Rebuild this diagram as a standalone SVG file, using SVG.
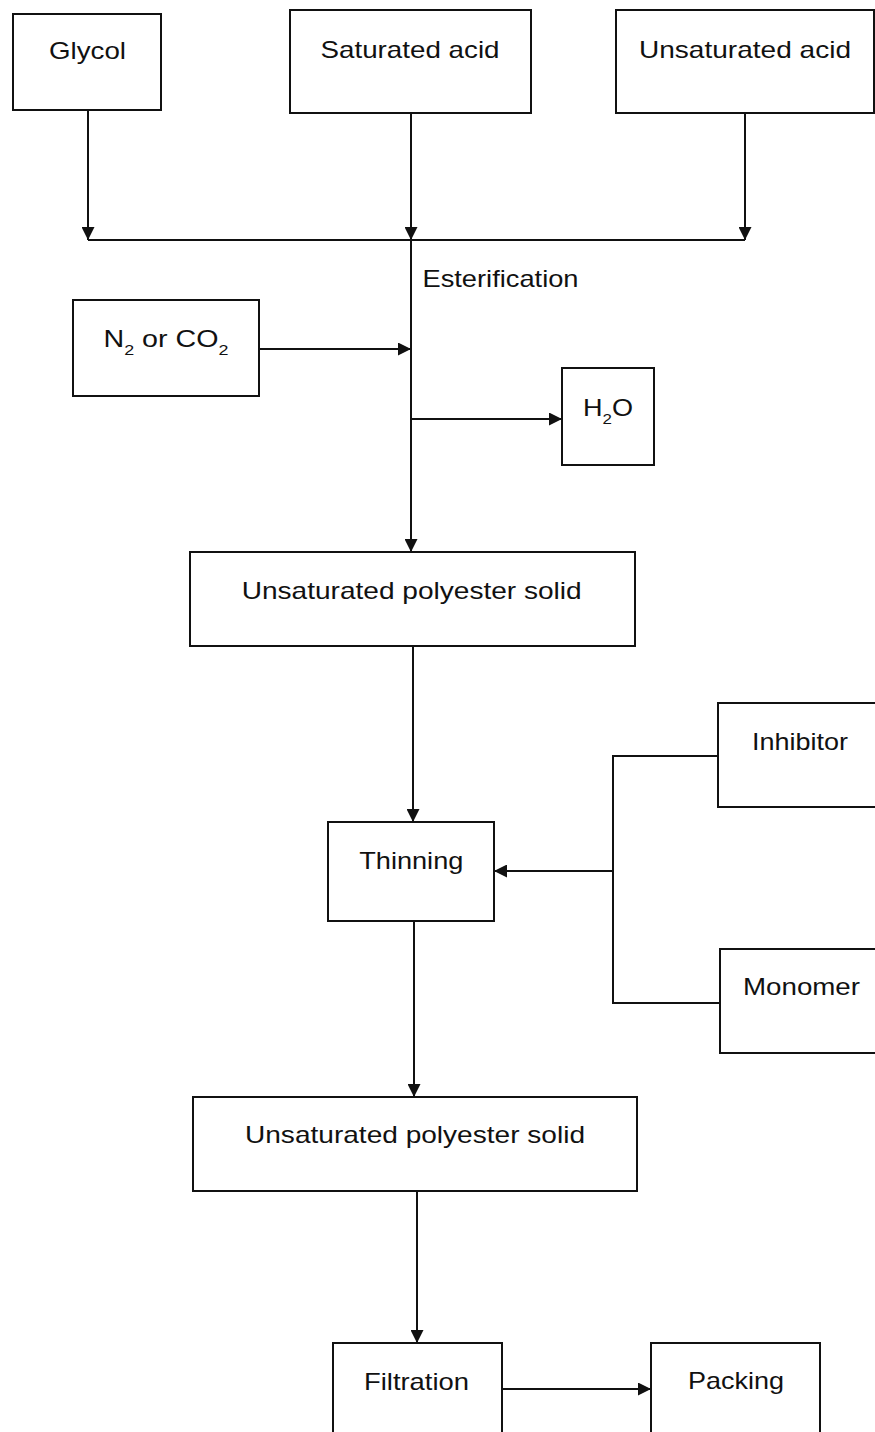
<svg xmlns="http://www.w3.org/2000/svg" width="875" height="1432" viewBox="0 0 875 1432">
<style>
.box{fill:#fff;stroke:#111;stroke-width:2}
.t{font-family:"Liberation Sans",Arial,sans-serif;font-size:24px;fill:#111;text-anchor:middle}
.l{fill:none;stroke:#111;stroke-width:2}
</style>
<defs>
<marker id="ah" markerUnits="userSpaceOnUse" markerWidth="13" markerHeight="13" refX="13" refY="6.5" orient="auto">
<path d="M0,0 L13,6.5 L0,13 z" fill="#111"/>
</marker>
</defs>
<rect width="875" height="1432" fill="#fff"/>
<g id="connectors">
<line class="l" x1="88" y1="110" x2="88" y2="240" marker-end="url(#ah)"/>
<line class="l" x1="411" y1="113" x2="411" y2="240" marker-end="url(#ah)"/>
<line class="l" x1="745" y1="113" x2="745" y2="240" marker-end="url(#ah)"/>
<line class="l" x1="88" y1="240" x2="745" y2="240"/>
<line class="l" x1="411" y1="240" x2="411" y2="552" marker-end="url(#ah)"/>
<line class="l" x1="259" y1="349" x2="411" y2="349" marker-end="url(#ah)"/>
<line class="l" x1="411" y1="419" x2="562" y2="419" marker-end="url(#ah)"/>
<line class="l" x1="413" y1="646" x2="413" y2="822" marker-end="url(#ah)"/>
<path class="l" d="M718,756 H613 V1003 H720"/>
<line class="l" x1="613" y1="871" x2="494" y2="871" marker-end="url(#ah)"/>
<line class="l" x1="414" y1="921" x2="414" y2="1097" marker-end="url(#ah)"/>
<line class="l" x1="417" y1="1191" x2="417" y2="1343" marker-end="url(#ah)"/>
<line class="l" x1="502" y1="1389" x2="651" y2="1389" marker-end="url(#ah)"/>
</g>
<g id="glycol">
<rect class="box" x="13" y="14" width="148" height="96"/>
<text class="t" x="87.5" y="59" textLength="77" lengthAdjust="spacingAndGlyphs">Glycol</text>
</g>
<g id="saturated-acid">
<rect class="box" x="290" y="10" width="241" height="103"/>
<text class="t" x="410" y="58" textLength="179" lengthAdjust="spacingAndGlyphs">Saturated acid</text>
</g>
<g id="unsaturated-acid">
<rect class="box" x="616" y="10" width="258" height="103"/>
<text class="t" x="745" y="58" textLength="212" lengthAdjust="spacingAndGlyphs">Unsaturated acid</text>
</g>
<g id="esterification">
<text class="t" style="text-anchor:start" x="422.5" y="287" textLength="156" lengthAdjust="spacingAndGlyphs">Esterification</text>
</g>
<g id="n2-co2">
<rect class="box" x="73" y="300" width="186" height="96"/>
<text class="t" x="103.5" y="347" style="text-anchor:start" textLength="125" lengthAdjust="spacingAndGlyphs">N<tspan font-size="15" dy="8">2</tspan><tspan dy="-8"> or CO</tspan><tspan font-size="15" dy="8">2</tspan></text>
</g>
<g id="h2o">
<rect class="box" x="562" y="368" width="92" height="97"/>
<text class="t" x="583" y="416" style="text-anchor:start" textLength="50" lengthAdjust="spacingAndGlyphs">H<tspan font-size="15" dy="8">2</tspan><tspan dy="-8">O</tspan></text>
</g>
<g id="polyester-1">
<rect class="box" x="190" y="552" width="445" height="94"/>
<text class="t" x="411.7" y="599" textLength="340" lengthAdjust="spacingAndGlyphs">Unsaturated polyester solid</text>
</g>
<g id="thinning">
<rect class="box" x="328" y="822" width="166" height="99"/>
<text class="t" x="411.3" y="869" textLength="104" lengthAdjust="spacingAndGlyphs">Thinning</text>
</g>
<g id="inhibitor">
<rect class="box" x="718" y="703" width="170" height="104"/>
<text class="t" x="800" y="750" textLength="96" lengthAdjust="spacingAndGlyphs">Inhibitor</text>
</g>
<g id="monomer">
<rect class="box" x="720" y="949" width="170" height="104"/>
<text class="t" x="801.5" y="995" textLength="117" lengthAdjust="spacingAndGlyphs">Monomer</text>
</g>
<g id="polyester-2">
<rect class="box" x="193" y="1097" width="444" height="94"/>
<text class="t" x="415" y="1143" textLength="340" lengthAdjust="spacingAndGlyphs">Unsaturated polyester solid</text>
</g>
<g id="filtration">
<rect class="box" x="333" y="1343" width="169" height="110"/>
<text class="t" x="416.5" y="1390" textLength="105" lengthAdjust="spacingAndGlyphs">Filtration</text>
</g>
<g id="packing">
<rect class="box" x="651" y="1343" width="169" height="110"/>
<text class="t" x="736" y="1389" textLength="96" lengthAdjust="spacingAndGlyphs">Packing</text>
</g>
</svg>
